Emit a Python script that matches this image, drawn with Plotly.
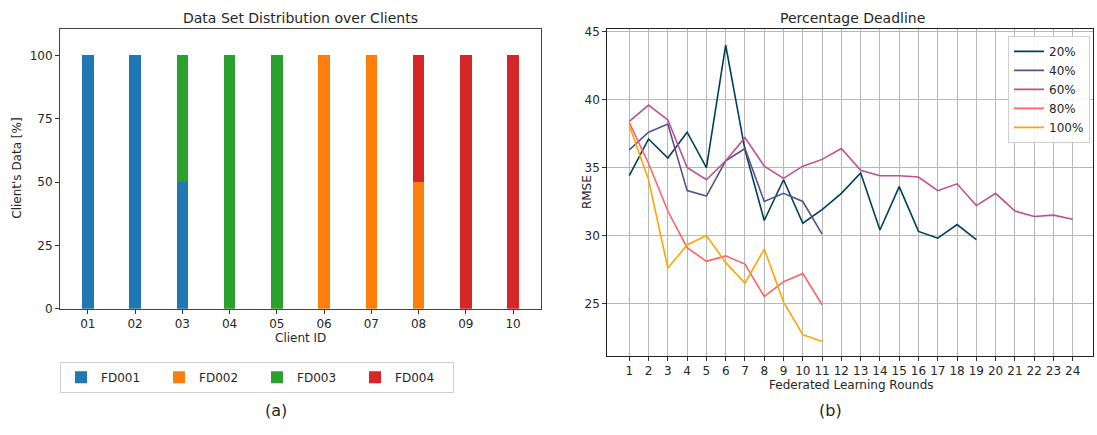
import plotly.graph_objects as go

# ---- data: client data distribution (percent of each client's data) ----
clients = ["01", "02", "03", "04", "05", "06", "07", "08", "09", "10"]
fd001 = [100, 100, 50, 0, 0, 0, 0, 0, 0, 0]
fd002 = [0, 0, 0, 0, 0, 100, 100, 50, 0, 0]
fd003 = [0, 0, 50, 100, 100, 0, 0, 0, 0, 0]
fd004 = [0, 0, 0, 0, 0, 0, 0, 50, 100, 100]
datasets = ["FD001", "FD002", "FD003", "FD004"]
dataset_colors = ["#1f77b4", "#ff7f0e", "#2ca02c", "#d62728"]

# ---- data: RMSE per federated learning round for each deadline ----
rmse_20 = [34.4, 37.1, 35.7, 37.6, 35.0, 44.0, 36.3, 31.1, 34.1, 30.9, 31.9,
           33.1, 34.6, 30.4, 33.6, 30.3, 29.8, 30.8, 29.7]
rmse_40 = [36.3, 37.6, 38.2, 33.3, 32.9, 35.5, 36.4, 32.5, 33.1, 32.5, 30.1]
rmse_60 = [38.4, 39.6, 38.5, 35.0, 34.1, 35.5, 37.2, 35.1, 34.2, 35.1, 35.6,
           36.4, 34.8, 34.4, 34.4, 34.3, 33.3, 33.8, 32.2, 33.1, 31.8, 31.4,
           31.5, 31.2]
rmse_80 = [38.3, 35.3, 31.8, 29.1, 28.1, 28.5, 27.9, 25.5, 26.6, 27.2, 24.9]
rmse_100 = [38.1, 34.1, 27.6, 29.3, 30.0, 28.0, 26.5, 29.0, 25.1, 22.7, 22.2]
deadline_labels = ["20%", "40%", "60%", "80%", "100%"]
deadline_series = [rmse_20, rmse_40, rmse_60, rmse_80, rmse_100]
deadline_colors = ["#003f5c", "#58508d", "#bc5090", "#ff6361", "#ffa600"]
rounds = list(range(1, 25))

W, H = 1097, 435
FONT = "DejaVu Sans"
TXT = "#262626"


def px_x(v):
    return v / W


def px_y(v):
    return 1 - v / H


fig = go.Figure()

# stacked bars
for name, vals, col in zip(datasets, [fd001, fd002, fd003, fd004], dataset_colors):
    fig.add_trace(go.Bar(
        x=clients, y=vals, name=name, width=0.24,
        marker=dict(color=col, line=dict(width=0)),
        xaxis="x", yaxis="y", legend="legend",
    ))

# RMSE lines
for name, vals, col in zip(deadline_labels, deadline_series, deadline_colors):
    fig.add_trace(go.Scatter(
        x=rounds[:len(vals)], y=vals, name=name, mode="lines",
        line=dict(color=col, width=1.6),
        xaxis="x2", yaxis="y2", legend="legend2",
    ))

tickfont = dict(family=FONT, size=12, color=TXT)
axis_common = dict(
    showline=True, mirror=True, ticks="outside", ticklen=4, tickwidth=1,
    tickcolor="#333", tickfont=tickfont, zeroline=False,
)

fig.update_layout(
    width=W, height=H,
    margin=dict(l=0, r=0, t=0, b=0),
    paper_bgcolor="white", plot_bgcolor="white",
    barmode="stack",
    font=dict(family=FONT, color=TXT),
    xaxis=dict(
        domain=[px_x(60), px_x(541)], anchor="y",
        type="category", range=[-0.59, 9.59],
        showgrid=False, linecolor="#444", **axis_common,
    ),
    yaxis=dict(
        domain=[px_y(312.7), px_y(26)], anchor="x",
        range=[0, 110.3], tickvals=[0, 25, 50, 75, 100],
        showgrid=False, linecolor="#444", **axis_common,
    ),
    xaxis2=dict(
        domain=[px_x(607.3), px_x(1093)], anchor="y2",
        range=[-0.14, 25.05], tickvals=rounds,
        showgrid=True, gridcolor="#b8b8b8", gridwidth=1,
        linecolor="#222", **axis_common,
    ),
    yaxis2=dict(
        domain=[px_y(361), px_y(26)], anchor="x2",
        range=[21.14, 45.17], tickvals=[25, 30, 35, 40, 45],
        showgrid=True, gridcolor="#b8b8b8", gridwidth=1,
        linecolor="#222", **axis_common,
    ),
    legend=dict(
        orientation="h", x=px_x(60), xanchor="left",
        y=px_y(367), yanchor="top",
        bordercolor="#d0d0d0", borderwidth=1, bgcolor="white",
        font=dict(family=FONT, size=12, color=TXT),
        entrywidth=53, entrywidthmode="pixels",
        traceorder="normal",
    ),
    legend2=dict(
        x=px_x(1090), xanchor="right", y=px_y(32.7), yanchor="top",
        bordercolor="#d0d0d0", borderwidth=1, bgcolor="rgba(255,255,255,0.85)",
        font=dict(family=FONT, size=12, color=TXT),
        tracegroupgap=0, itemwidth=30,
    ),
    showlegend=True,
)

annotations = [
    dict(text="Data Set Distribution over Clients", x=px_x(300), y=px_y(14),
         font=dict(size=14)),
    dict(text="Percentage Deadline", x=px_x(852), y=px_y(14),
         font=dict(size=14)),
    dict(text="Client ID", x=px_x(300), y=px_y(343), font=dict(size=12)),
    dict(text="Federated Learning Rounds", x=px_x(851), y=px_y(391),
         font=dict(size=12)),
    dict(text="Client's Data [%]", x=px_x(17), y=px_y(169), textangle=-90,
         font=dict(size=12)),
    dict(text="RMSE", x=px_x(587), y=px_y(193), textangle=-90,
         font=dict(size=12)),
    dict(text="(a)", x=px_x(276), y=px_y(417), font=dict(size=16)),
    dict(text="(b)", x=px_x(830), y=px_y(417), font=dict(size=16)),
]
for a in annotations:
    a.update(xref="paper", yref="paper", showarrow=False,
             xanchor="center", yanchor="middle")
    a["font"].update(family=FONT, color=TXT)
fig.update_layout(annotations=annotations)

fig.write_html("out.html")
